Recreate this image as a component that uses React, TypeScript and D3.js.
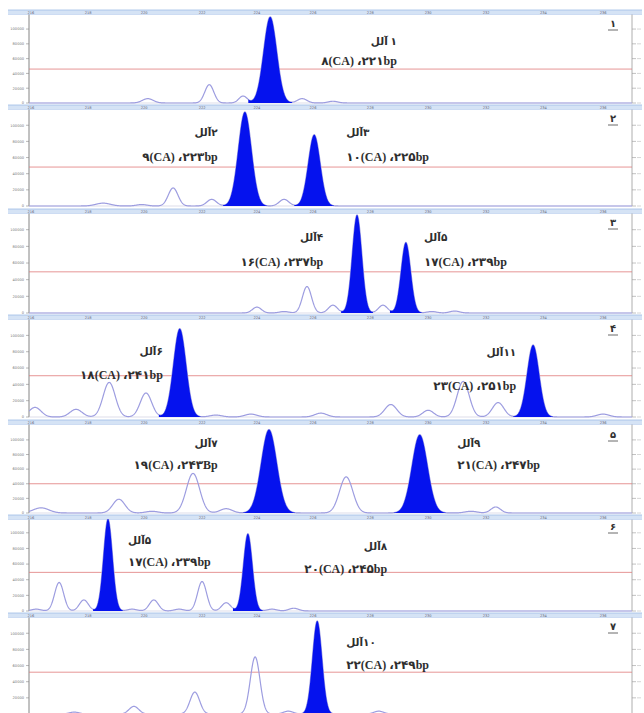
import React from "react";
import * as d3 from "d3";

type Peak = { pos: number; h: number; s: number };
type Label = { allele: string; repeat: string; x: number; nameY: number; sizeY: number; anchor: "start" | "end" };

const LRM = "\u200E";

// ---------- data ----------
const panelNumbers = ["۱", "۲", "۳", "۴", "۵", "۶", "۷"];
const thresholds = [39, 41, 42, 43, 34, 42, 44];
const yTickValues = [0, 17, 34, 51, 68, 85];
const yTickLabels = ["0", "20000", "40000", "60000", "80000", "100000"];
const topTickValues = [0.3, 9.8, 19.1, 28.7, 37.8, 47.1, 56.6, 66.2, 75.8, 85.3, 95.2];
const topTickLabels = ["216", "218", "220", "222", "224", "226", "228", "230", "232", "234", "236"];

const p1Alleles: Peak[] = [{ pos: 40.0, h: 99, s: 1.1 }];
const p1Others: Peak[] = [
  { pos: 19.7, h: 5, s: 0.9 }, { pos: 29.9, h: 21, s: 0.75 }, { pos: 35.5, h: 8, s: 0.7 },
  { pos: 45.3, h: 5, s: 0.8 }, { pos: 50.4, h: 2, s: 0.8 },
];
const p1Labels: Label[] = [{ allele: "آلل " + LRM + "۱", repeat: "۸(CA) ،۲۲۱bp", x: 61.0, nameY: 71, sizeY: 49, anchor: "end" }];

const p2Alleles: Peak[] = [{ pos: 35.8, h: 99, s: 1.1 }, { pos: 47.3, h: 75, s: 1.0 }];
const p2Others: Peak[] = [
  { pos: 12.3, h: 3, s: 1.2 }, { pos: 18.7, h: 1.5, s: 0.9 }, { pos: 23.9, h: 19, s: 0.8 },
  { pos: 30.3, h: 7, s: 0.8 }, { pos: 42.3, h: 7, s: 0.8 },
];
const p2Labels: Label[] = [
  { allele: "آلل" + LRM + "۲", repeat: "۹(CA) ،۲۲۳bp", x: 31.3, nameY: 78, sizeY: 52, anchor: "end" },
  { allele: "آلل" + LRM + "۳", repeat: "۱۰(CA) ،۲۲۵bp", x: 52.6, nameY: 78, sizeY: 52, anchor: "start" },
];

const p3Alleles: Peak[] = [{ pos: 54.4, h: 100, s: 0.8 }, { pos: 62.5, h: 72, s: 0.8 }];
const p3Others: Peak[] = [
  { pos: 37.8, h: 6, s: 0.75 }, { pos: 42.3, h: 1.5, s: 0.8 }, { pos: 46.1, h: 27, s: 0.75 },
  { pos: 50.4, h: 8, s: 0.75 }, { pos: 58.7, h: 8, s: 0.75 }, { pos: 66.8, h: 1.5, s: 0.8 },
  { pos: 70.6, h: 2, s: 0.8 },
];
const p3Labels: Label[] = [
  { allele: "آلل" + LRM + "۴", repeat: "۱۶(CA) ،۲۳۷bp", x: 48.8, nameY: 77, sizeY: 52, anchor: "end" },
  { allele: "آلل" + LRM + "۵", repeat: "۱۷(CA) ،۲۳۹bp", x: 65.5, nameY: 77, sizeY: 52, anchor: "start" },
];

const p4Alleles: Peak[] = [{ pos: 25.0, h: 92, s: 1.05 }, { pos: 83.6, h: 75, s: 1.0 }];
const p4Others: Peak[] = [
  { pos: 1.0, h: 10, s: 1.0 }, { pos: 7.8, h: 8, s: 1.0 }, { pos: 13.3, h: 36, s: 1.0 },
  { pos: 19.4, h: 25, s: 0.95 }, { pos: 31.0, h: 2, s: 1.0 }, { pos: 36.8, h: 3, s: 1.0 },
  { pos: 48.4, h: 4, s: 1.0 }, { pos: 60.0, h: 13, s: 1.0 }, { pos: 66.2, h: 7, s: 0.9 },
  { pos: 72.0, h: 37, s: 1.0 }, { pos: 77.8, h: 15, s: 0.95 }, { pos: 95.2, h: 3, s: 1.0 },
];
const p4Labels: Label[] = [
  { allele: "آلل" + LRM + "۶", repeat: "۱۸(CA) ،۲۴۱bp", x: 22.2, nameY: 68, sizeY: 44, anchor: "end" },
  { allele: "آلل" + LRM + "۱۱", repeat: "۲۳(CA) ،۲۵۱bp", x: 80.8, nameY: 67, sizeY: 32, anchor: "end" },
];

const p5Alleles: Peak[] = [{ pos: 39.8, h: 97, s: 1.3 }, { pos: 64.8, h: 91, s: 1.3 }];
const p5Others: Peak[] = [
  { pos: 2.0, h: 6, s: 1.3 }, { pos: 14.9, h: 16, s: 1.0 }, { pos: 20.4, h: 2, s: 1.0 },
  { pos: 27.2, h: 46, s: 1.1 }, { pos: 32.7, h: 5, s: 1.0 }, { pos: 52.6, h: 42, s: 1.1 },
  { pos: 73.3, h: 2, s: 1.0 }, { pos: 77.4, h: 7, s: 0.8 },
];
const p5Labels: Label[] = [
  { allele: "آلل" + LRM + "۷", repeat: "۱۹(CA) ،۲۴۳Bp", x: 31.3, nameY: 81, sizeY: 56, anchor: "end" },
  { allele: "آلل" + LRM + "۹", repeat: "۲۱(CA) ،۲۴۷bp", x: 71.0, nameY: 81, sizeY: 56, anchor: "start" },
];

const p6Alleles: Peak[] = [{ pos: 13.1, h: 100, s: 0.75 }, { pos: 36.3, h: 84, s: 0.75 }];
const p6Others: Peak[] = [
  { pos: 1.2, h: 2, s: 0.8 }, { pos: 5.0, h: 31, s: 0.75 }, { pos: 9.1, h: 12, s: 0.75 },
  { pos: 17.1, h: 2, s: 0.8 }, { pos: 20.7, h: 12, s: 0.75 }, { pos: 24.9, h: 2, s: 0.8 },
  { pos: 28.7, h: 32, s: 0.75 }, { pos: 32.7, h: 9, s: 0.75 }, { pos: 40.3, h: 2, s: 0.8 },
  { pos: 43.9, h: 3, s: 0.8 },
];
const p6Labels: Label[] = [
  { allele: "آلل" + LRM + "۵", repeat: "۱۷(CA) ،۲۳۹bp", x: 16.4, nameY: 77, sizeY: 53, anchor: "start" },
  { allele: "آلل" + LRM + "۸", repeat: "۲۰(CA) ،۲۴۵bp", x: 59.4, nameY: 70, sizeY: 46, anchor: "end" },
];

const p7Alleles: Peak[] = [{ pos: 47.8, h: 98, s: 0.8 }];
const p7Others: Peak[] = [
  { pos: 7.5, h: 2, s: 0.8 }, { pos: 17.4, h: 8, s: 0.8 }, { pos: 27.5, h: 23, s: 0.8 },
  { pos: 37.5, h: 60, s: 0.8 }, { pos: 43.0, h: 3, s: 0.8 }, { pos: 58.0, h: 3, s: 0.8 },
];
const p7Labels: Label[] = [
  { allele: "آلل" + LRM + "۱۰", repeat: "۲۲(CA) ،۲۴۹bp", x: 52.6, nameY: 75, sizeY: 52, anchor: "start" },
];

const allAlleles = [p1Alleles, p2Alleles, p3Alleles, p4Alleles, p5Alleles, p6Alleles, p7Alleles];
const allOthers = [p1Others, p2Others, p3Others, p4Others, p5Others, p6Others, p7Others];
const allLabels = [p1Labels, p2Labels, p3Labels, p4Labels, p5Labels, p6Labels, p7Labels];

// ---------- layout ----------
const W = 644;
const H = 713;
const LEFT = 29;
const RIGHT = 632;
const layout = [
  { band: 10, top: 16, base: 103 },
  { band: 105, top: 111, base: 206 },
  { band: 209, top: 215, base: 313 },
  { band: 315, top: 321, base: 417 },
  { band: 420, top: 427, base: 513 },
  { band: 515, top: 519, base: 611 },
  { band: 613, top: 619, base: 714 },
];

const gauss = (x: number, p: Peak) => p.h * Math.exp(-0.5 * ((x - p.pos) / p.s) ** 2);

function Panel({ i }: { i: number }) {
  const L = layout[i];
  const alleles = allAlleles[i];
  const others = allOthers[i];
  const peaks = [...alleles, ...others];
  const x = d3.scaleLinear().domain([0, 100]).range([LEFT, RIGHT]);
  const y = d3.scaleLinear().domain([0, 100]).range([L.base, L.top]);
  const total = (v: number) => d3.sum(peaks, (p) => gauss(v, p));
  const xs = d3.range(0, 100.001, 0.05);
  const line = d3
    .line<number>()
    .x((d) => x(d))
    .y((d) => y(total(d)));
  const area = d3
    .area<number>()
    .x((d) => x(d))
    .y0(L.base)
    .y1((d) => y(total(d)));
  const clipId = `clip${i}`;
  const serif = "'Liberation Serif', 'DejaVu Serif', 'DejaVu Sans', serif";
  const visibleTicks = yTickValues.map((t, k) => ({ t, k })).filter((d) => y(d.t) < H - 3);
  return (
    <g>
      <defs>
        <clipPath id={clipId}>
          <rect x={LEFT} y={L.band + 4} width={RIGHT - LEFT} height={L.base - L.band - 3} />
        </clipPath>
      </defs>
      {/* top band */}
      <rect x={8} y={L.band} width={634} height={4.5} fill="#d5e3f5" />
      <line x1={8} x2={642} y1={L.band} y2={L.band} stroke="#9fbde6" strokeWidth={0.8} />
      <line x1={8} x2={642} y1={L.band + 4.5} y2={L.band + 4.5} stroke="#b9cfee" strokeWidth={0.6} />
      {topTickValues.map((t, k) => (
        <text key={k} x={x(t)} y={L.band + 3.6} fontSize={3.6} fill="#667" textAnchor="middle" fontFamily="DejaVu Sans">
          {topTickLabels[k]}
        </text>
      ))}
      {/* axes */}
      <line x1={LEFT} x2={LEFT} y1={L.band + 4.5} y2={L.base} stroke="#777" strokeWidth={0.9} />
      <line x1={RIGHT} x2={RIGHT} y1={L.band + 4.5} y2={L.base} stroke="#999" strokeWidth={0.8} />
      {visibleTicks.map(({ t, k }) => (
        <g key={k}>
          <line x1={LEFT - 3} x2={LEFT} y1={y(t)} y2={y(t)} stroke="#888" strokeWidth={0.6} />
          <text x={LEFT - 5} y={y(t) + 1.3} fontSize={3.6} fill="#777" textAnchor="end" fontFamily="DejaVu Sans">
            {yTickLabels[k]}
          </text>
          <line x1={RIGHT} x2={RIGHT + 4} y1={y(t)} y2={y(t)} stroke="#999" strokeWidth={0.6} />
          <line x1={RIGHT + 5} x2={RIGHT + 9} y1={y(t)} y2={y(t)} stroke="#bbb" strokeWidth={0.6} />
        </g>
      ))}
      <line x1={LEFT} x2={RIGHT} y1={L.base} y2={L.base} stroke="#c8c8dc" strokeWidth={0.6} />
      {/* threshold */}
      <line x1={LEFT} x2={RIGHT} y1={y(thresholds[i])} y2={y(thresholds[i])} stroke="#e07a7a" strokeWidth={0.8} />
      <g clipPath={`url(#${clipId})`}>
        <path d={line(xs) || ""} fill="none" stroke="#9d9de0" strokeWidth={1.2} />
        {alleles.map((p, k) => {
          const seg = d3.range(p.pos - 3.3 * p.s, p.pos + 3.3 * p.s, 0.02);
          return <path key={k} d={area(seg) || ""} fill="#0512ee" />;
        })}
      </g>
      {/* labels */}
      {allLabels[i].map((lb, k) => (
        <g key={k} fontFamily={serif} fill="#2e2e2e" fontWeight="bold">
          <text x={x(lb.x)} y={y(lb.nameY)} dy="0.35em" fontSize={10.5} textAnchor={lb.anchor} direction="ltr">
            {lb.allele}
          </text>
          <text x={x(lb.x)} y={y(lb.sizeY)} dy="0.35em" fontSize={12} textAnchor={lb.anchor} direction="ltr">
            {lb.repeat}
          </text>
        </g>
      ))}
      {/* panel number */}
      <text x={613} y={L.top + 11} fontSize={10} fill="#333" textAnchor="middle" fontFamily="DejaVu Sans" fontWeight="bold">
        {panelNumbers[i]}
      </text>
      <line x1={608} x2={618} y1={L.top + 14} y2={L.top + 14} stroke="#444" strokeWidth={0.8} />
    </g>
  );
}

export default function App() {
  return (
    <svg
      width={W}
      height={H}
      viewBox={`0 0 ${W} ${H}`}
      style={{ position: "absolute", left: 0, top: 0, background: "#fff" }}
    >
      <rect x={0} y={0} width={W} height={H} fill="#fff" />
      {layout.map((_, i) => (
        <Panel key={i} i={i} />
      ))}
    </svg>
  );
}
